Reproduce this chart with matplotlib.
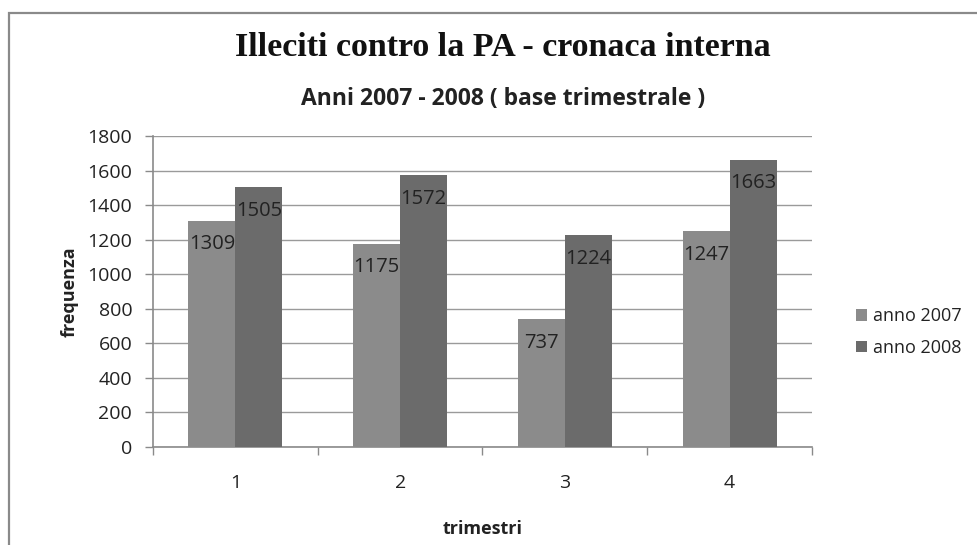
import matplotlib
matplotlib.use("Agg")
import matplotlib.pyplot as plt
import numpy as np
from matplotlib.patches import Rectangle

categories = ["1", "2", "3", "4"]
anno_2007 = [1309, 1175, 737, 1247]
anno_2008 = [1505, 1572, 1224, 1663]
series_names = ["anno 2007", "anno 2008"]
yticks = [0, 200, 400, 600, 800, 1000, 1200, 1400, 1600, 1800]

W, H = 978, 545
fig = plt.figure(figsize=(W / 100, H / 100), dpi=100)
fig.patch.set_facecolor("white")

# outer chart border
fig.add_artist(Rectangle((9 / W, -0.05), 1.2, (H - 13) / H + 0.05,
                         transform=fig.transFigure, fill=False,
                         edgecolor="#8a8a8a", linewidth=1.6))

ax = fig.add_axes([153 / W, 98.3 / H, 659 / W, 310.7 / H])
sans = "Open Sans"
txt = "#222222"

x = np.arange(len(categories))
bw = 1 / 3.5
c07 = "#8b8b8b"
c08 = "#6b6b6b"
b1 = ax.bar(x - bw / 2, anno_2007, bw, color=c07, label=series_names[0], zorder=3)
b2 = ax.bar(x + bw / 2, anno_2008, bw, color=c08, label=series_names[1], zorder=3)

for bars, vals in ((b1, anno_2007), (b2, anno_2008)):
    for r, v in zip(bars, vals):
        ax.annotate(str(v), (r.get_x() + r.get_width() / 2, v),
                    xytext=(0, -17), textcoords="offset points",
                    ha="center", va="center", fontsize=14.5,
                    family=sans, color=txt, zorder=4)

ax.set_xlim(-0.5, 3.5)
ax.set_ylim(0, 1800)
ax.set_yticks(yticks)
ax.set_yticklabels([str(t) for t in yticks], family=sans, fontsize=14, color=txt)
ax.yaxis.grid(True, color="#9a9a9a", linewidth=1.0, zorder=0)
ax.set_axisbelow(True)

ax.set_xticks(x)
ax.set_xticklabels(categories, family=sans, fontsize=14, color=txt)
ax.tick_params(axis="x", length=0, pad=20)
ax.set_xticks(np.arange(-0.5, 4.0, 1.0), minor=True)
ax.tick_params(axis="x", which="minor", length=6, color="#8a8a8a", width=1)
ax.tick_params(axis="y", length=6, color="#8a8a8a", width=1, pad=9)

for s in ("top", "right"):
    ax.spines[s].set_visible(False)
for s in ("left", "bottom"):
    ax.spines[s].set_color("#8a8a8a")
    ax.spines[s].set_linewidth(1.2)

ax.set_xlabel("trimestri", family=sans, fontsize=13, fontweight="bold",
              color=txt, labelpad=20)
ax.set_ylabel("frequenza", family=sans, fontsize=13, fontweight="bold",
              color=txt, labelpad=6)

fig.text(503 / W, 1 - 48 / H, "Illeciti contro la PA - cronaca interna",
         family="Liberation Serif", fontsize=24.5, fontweight="bold",
         ha="center", va="center", color="#111111")
fig.text(503 / W, 1 - 99 / H, "Anni 2007 - 2008 ( base trimestrale )",
         family=sans, fontsize=16.5, fontweight="bold", ha="center", va="center",
         color=txt)

leg = fig.legend(handles=[b1, b2], labels=series_names, loc="center left",
                 bbox_to_anchor=(856 / W, 1 - 332 / H), frameon=False,
                 borderaxespad=0, borderpad=0,
                 prop={"family": sans, "size": 13}, handlelength=0.6,
                 handleheight=0.6, handletextpad=0.35, labelspacing=0.75)
for t in leg.get_texts():
    t.set_color(txt)

fig.savefig("out.png", dpi=100, facecolor="white")
